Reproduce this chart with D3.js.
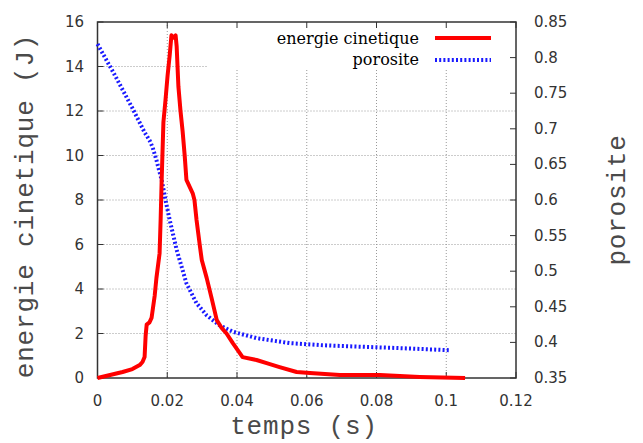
<!DOCTYPE html>
<html><head><meta charset="utf-8">
<script src="https://cdn.jsdelivr.net/npm/d3@7"></script>
<style>body{margin:0;background:#fff}svg{display:block}</style>
</head><body>
<svg id="c" width="643" height="443"></svg>
<script>
// ---- data ----
const xTicks = [0, 0.02, 0.04, 0.06, 0.08, 0.1, 0.12];
const xTickLabels = ["0", "0.02", "0.04", "0.06", "0.08", "0.1", "0.12"];
const yTicks = [0, 2, 4, 6, 8, 10, 12, 14, 16];
const y2Ticks = [0.35, 0.4, 0.45, 0.5, 0.55, 0.6, 0.65, 0.7, 0.75, 0.8, 0.85];
const y2TickLabels = ["0.35","0.4","0.45","0.5","0.55","0.6","0.65","0.7","0.75","0.8","0.85"];
const seriesNames = ["energie cinetique", "porosite"];

const energieT = [0, 0.0072, 0.0100, 0.0121, 0.0129, 0.0135, 0.0138, 0.0141, 0.0149, 0.0155, 0.0164, 0.0169, 0.0178, 0.0181, 0.0184, 0.0189, 0.0195, 0.0201, 0.0207, 0.0212, 0.0218, 0.0224, 0.0227, 0.0230, 0.0232, 0.0238, 0.0244, 0.0250, 0.0255, 0.0264, 0.0273, 0.0278, 0.0284, 0.0293, 0.0299, 0.0313, 0.0327, 0.0342, 0.0356, 0.0370, 0.0388, 0.0416, 0.0456, 0.0485, 0.0522, 0.0571, 0.0609, 0.0695, 0.081, 0.0924, 0.1054];
const energieJ = [0, 0.27, 0.40, 0.58, 0.72, 0.94, 1.9, 2.4, 2.5, 2.7, 3.7, 4.5, 5.6, 7.1, 8.9, 11.5, 12.5, 13.6, 14.5, 15.4, 15.3, 15.4, 14.9, 13.8, 13.1, 12.0, 11.1, 10.0, 8.9, 8.6, 8.3, 8.0, 7.1, 6.0, 5.3, 4.5, 3.6, 2.6, 2.25, 2.0, 1.57, 0.94, 0.81, 0.67, 0.49, 0.27, 0.22, 0.13, 0.13, 0.05, 0.0];

const porositeT = [0, 0.0049, 0.0100, 0.0135, 0.0149, 0.0158, 0.0169, 0.0184, 0.0195, 0.0207, 0.0227, 0.0255, 0.0284, 0.0313, 0.0350, 0.0388, 0.0456, 0.0551, 0.0646, 0.0752, 0.0867, 0.1010];
const porositeV = [0.819, 0.776, 0.729, 0.695, 0.684, 0.674, 0.656, 0.628, 0.600, 0.572, 0.530, 0.483, 0.455, 0.438, 0.424, 0.415, 0.406, 0.399, 0.396, 0.394, 0.392, 0.389];

// ---- layout ----
const L = 97.5, R = 516, T = 22, B = 378;
const svg = d3.select("#c");
const x = d3.scaleLinear().domain([0, 0.12]).range([L, R]);
const y = d3.scaleLinear().domain([0, 16]).range([B, T]);
const y2 = d3.scaleLinear().domain([0.35, 0.85]).range([B, T]);

const keyX0 = 207, keyY1 = 70; // legend box occludes grid
const gridCol = "#999";

// grid
const g = svg.append("g");
xTicks.slice(1, -1).forEach(v => {
  const px = x(v);
  const top = px > keyX0 ? keyY1 : T;
  g.append("line").attr("x1", px).attr("x2", px).attr("y1", top).attr("y2", B)
    .attr("stroke", gridCol).attr("stroke-width", 1).attr("stroke-dasharray", "1,2");
});
yTicks.slice(1, -1).forEach(v => {
  const py = y(v);
  const right = py < keyY1 ? keyX0 : R;
  g.append("line").attr("x1", L).attr("x2", right).attr("y1", py).attr("y2", py)
    .attr("stroke", gridCol).attr("stroke-width", 1).attr("stroke-dasharray", "1,2");
});

// ticks
const tk = svg.append("g").attr("stroke", "#333").attr("stroke-width", 1);
xTicks.forEach(v => {
  tk.append("line").attr("x1", x(v)).attr("x2", x(v)).attr("y1", B).attr("y2", B - 6);
  tk.append("line").attr("x1", x(v)).attr("x2", x(v)).attr("y1", T).attr("y2", T + 6);
});
yTicks.forEach(v => {
  tk.append("line").attr("x1", L).attr("x2", L + 6).attr("y1", y(v)).attr("y2", y(v));
});
y2Ticks.forEach(v => {
  tk.append("line").attr("x1", R).attr("x2", R - 6).attr("y1", y2(v)).attr("y2", y2(v));
});

// border
svg.append("rect").attr("x", L).attr("y", T).attr("width", R - L).attr("height", B - T)
  .attr("fill", "none").attr("stroke", "#333").attr("stroke-width", 1.5);

// tick labels
const tickFont = "'DejaVu Sans', sans-serif";
const tl = svg.append("g").attr("font-family", tickFont).attr("font-size", 15).attr("fill", "#333");
xTicks.forEach((v, i) => {
  tl.append("text").attr("x", x(v)).attr("y", 406).attr("text-anchor", "middle").text(xTickLabels[i]);
});
yTicks.forEach(v => {
  tl.append("text").attr("x", 84).attr("y", y(v) + 5).attr("text-anchor", "end").text(String(v));
});
y2Ticks.forEach((v, i) => {
  tl.append("text").attr("x", 534).attr("y", y2(v) + 5).attr("text-anchor", "start").text(y2TickLabels[i]);
});

// axis titles
const monoFont = "'Liberation Mono', 'DejaVu Sans Mono', monospace";
function title(sel) {
  return sel.attr("font-family", monoFont).attr("font-size", 26).attr("letter-spacing", 0.8)
    .attr("fill", "#4a4a4a").attr("text-anchor", "middle");
}
title(svg.append("text").attr("transform", "translate(33,206) rotate(-90)")).text("energie cinetique (J)");
title(svg.append("text").attr("transform", "translate(625,200) rotate(-90)")).text("porosite");
title(svg.append("text").attr("x", 304).attr("y", 434)).text("temps (s)");

// curves
svg.append("clipPath").attr("id", "clip").append("rect")
  .attr("x", L - 3).attr("y", T).attr("width", R - L + 3).attr("height", B - T + 3);

const lineE = d3.line().x((d, i) => x(energieT[i])).y(d => y(d));
const lineP = d3.line().x((d, i) => x(porositeT[i])).y(d => y2(d));

svg.append("path").datum(porositeV).attr("d", lineP).attr("fill", "none")
  .attr("stroke", "#1a1aff").attr("stroke-width", 4).attr("stroke-dasharray", "2,2.2")
  .attr("clip-path", "url(#clip)");
svg.append("path").datum(energieJ).attr("d", lineE).attr("fill", "none")
  .attr("stroke", "#ff0000").attr("stroke-width", 4).attr("stroke-linejoin", "round")
  .attr("clip-path", "url(#clip)");

// legend
const serif = "'DejaVu Serif', 'Liberation Serif', serif";
const lg = svg.append("g").attr("font-family", serif).attr("font-size", 16).attr("fill", "#000");
lg.append("text").attr("x", 419).attr("y", 44).attr("text-anchor", "end").text(seriesNames[0]);
lg.append("text").attr("x", 419).attr("y", 65).attr("text-anchor", "end").text(seriesNames[1]);
svg.append("line").attr("x1", 435).attr("x2", 491).attr("y1", 38).attr("y2", 38)
  .attr("stroke", "#ff0000").attr("stroke-width", 4);
svg.append("line").attr("x1", 435).attr("x2", 491).attr("y1", 60).attr("y2", 60)
  .attr("stroke", "#1a1aff").attr("stroke-width", 4).attr("stroke-dasharray", "2,2.2");
</script>
</body></html>
